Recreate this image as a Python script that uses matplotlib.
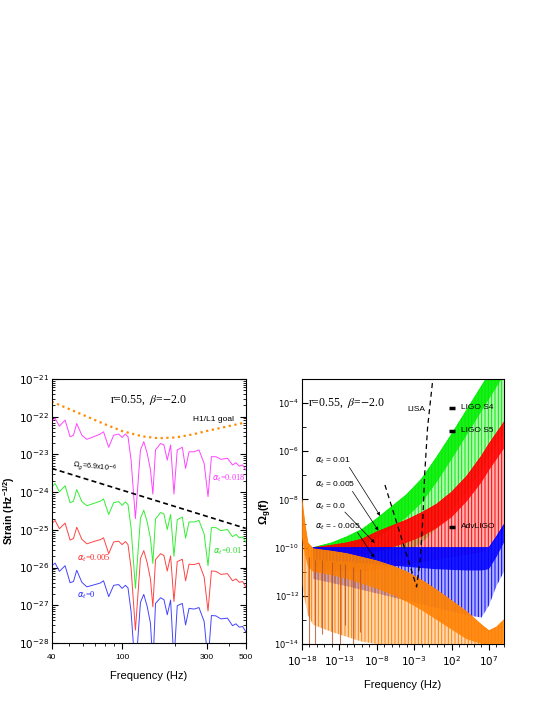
import numpy as np
import matplotlib
matplotlib.use("Agg")
import matplotlib.pyplot as plt
from matplotlib.ticker import FixedLocator, FuncFormatter, NullFormatter

plt.rcParams['font.family'] = ['Liberation Sans Narrow', 'Liberation Sans', 'DejaVu Sans']
plt.rcParams['mathtext.fontset'] = 'custom'
plt.rcParams['mathtext.rm'] = 'Liberation Sans Narrow'
plt.rcParams['mathtext.it'] = 'Liberation Sans Narrow:italic'
plt.rcParams['mathtext.bf'] = 'Liberation Sans:bold'
plt.rcParams['hatch.linewidth'] = 0.7

# ---------------- Left panel data (log10 strain) ----------------
freq_left = [40, 41.8, 44.2, 47.6, 50.8, 53.1, 55.4, 59.2, 63.2, 69, 75.2, 78.5, 84, 89.6,
             95.6, 100, 104.4, 108, 112.4, 118.9, 127, 132.6, 138.6, 144.7, 149.2, 154.5,
             165, 172.4, 180, 188, 196.4, 205, 219, 228.5, 239, 255, 272, 291, 306, 320,
             339, 362, 394, 421, 440, 460, 480, 500]
strain_a018 = [-22.13, -22.04, -22.25, -22.09, -22.53, -22.49, -22.18, -22.49, -22.60, -22.53,
               -22.46, -22.40, -22.81, -22.49, -22.46, -22.55, -22.46, -22.53, -23.15, -24.70,
               -22.88, -22.66, -22.97, -23.41, -24.05, -22.88, -22.71, -22.75, -23.15, -22.75,
               -24.05, -22.88, -22.81, -23.37, -22.93, -22.93, -22.88, -23.24, -24.12, -23.06,
               -23.06, -23.13, -23.10, -23.28, -23.22, -23.31, -23.28, -23.41]
strain_a010 = [-23.86, -23.77, -23.99, -23.83, -24.28, -24.24, -23.93, -24.25, -24.36, -24.30,
               -24.24, -24.18, -24.59, -24.28, -24.25, -24.35, -24.26, -24.33, -24.95, -26.55,
               -24.69, -24.48, -24.79, -25.23, -25.89, -24.71, -24.54, -24.58, -24.99, -24.59,
               -25.70, -24.73, -24.66, -25.22, -24.79, -24.79, -24.75, -25.11, -25.95, -24.94,
               -24.94, -25.02, -24.99, -25.18, -25.12, -25.21, -25.19, -25.32]
strain_a005 = [-24.83, -24.75, -24.97, -24.82, -25.27, -25.23, -24.93, -25.25, -25.37, -25.31,
               -25.26, -25.21, -25.63, -25.32, -25.30, -25.39, -25.31, -25.39, -26.01, -27.66,
               -25.76, -25.55, -25.87, -26.31, -27.04, -25.79, -25.63, -25.68, -26.09, -25.69,
               -26.90, -25.84, -25.78, -26.35, -25.91, -25.92, -25.88, -26.25, -27.15, -26.09,
               -26.10, -26.18, -26.16, -26.35, -26.30, -26.39, -26.37, -26.51]
strain_a000 = [-25.96, -25.88, -26.10, -25.95, -26.40, -26.37, -26.07, -26.39, -26.51, -26.46,
               -26.41, -26.35, -26.77, -26.47, -26.45, -26.55, -26.47, -26.54, -27.17, -28.80,
               -26.92, -26.71, -27.03, -27.48, -28.60, -26.95, -26.80, -26.85, -27.25, -26.86,
               -28.50, -27.01, -26.95, -27.52, -27.08, -27.10, -27.06, -27.43, -28.50, -27.27,
               -27.28, -27.36, -27.34, -27.54, -27.49, -27.58, -27.56, -27.70]
goal_freq = [40, 60, 80, 100, 130, 160, 200, 250, 300, 400, 500]
goal_strain = [-21.60, -21.95, -22.20, -22.38, -22.52, -22.57, -22.55, -22.47, -22.38, -22.25, -22.15]
omega_line_freq = [40, 500]
omega_line_strain = [-23.37, -24.96]

# ---------------- Right panel data (log10 f, log10 Omega) ----------------
green_lf = [-16.5, -14, -12, -10, -8, -6, -4, -2, 0, 2, 4, 6, 7, 8, 9]
green_top = [-10.0, -9.8, -9.55, -9.25, -8.8, -8.3, -7.8, -7.15, -6.25, -5.3, -4.3, -3.3, -2.8, -2.3, -1.8]
green_mid = [-10.4, -10.3, -10.15, -9.95, -9.6, -9.2, -8.75, -8.15, -7.3, -6.35, -5.35, -4.35, -3.85, -3.35, -2.85]
green_low = [-10.8, -10.9, -10.9, -10.8, -10.7, -10.5, -10.2, -9.8, -9.2, -8.5, -7.7, -6.8, -6.3, -5.8, -5.3]

red_lf = [-16.5, -14, -12, -10, -8, -6, -4, -2, 0, 2, 4, 6, 7, 8, 9]
red_top = [-10.0, -9.9, -9.8, -9.65, -9.35, -9.1, -8.85, -8.55, -8.2, -7.7, -7.05, -6.2, -5.7, -5.25, -4.8]
red_mid = [-10.45, -10.45, -10.4, -10.35, -10.2, -10.0, -9.8, -9.55, -9.2, -8.75, -8.1, -7.3, -6.8, -6.35, -5.9]
red_low = [-11.0, -11.0, -11.0, -11.0, -10.9, -10.8, -10.7, -10.6, -10.5, -10.4, -10.3, -10.2, -10.0, -9.6, -9.2]

blue_lf = [-16.5, -12, -8, -4, 0, 4, 6, 7, 8, 9]
blue_top = [-10.0, -10.0, -10.0, -10.0, -10.0, -10.0, -10.0, -10.0, -9.55, -9.05]
blue_mid = [-10.5, -10.6, -10.7, -10.8, -10.9, -10.95, -10.95, -10.9, -10.4, -9.8]
blue_low = [-11.3, -11.6, -11.9, -12.2, -12.5, -12.8, -12.9, -12.4, -11.6, -11.0]

orange_lf = [-18, -17.6, -17.2, -16.5, -14, -12, -10, -8, -6, -4, -2, 0, 2, 4, 6, 7, 8, 9]
orange_top = [-8.0, -9.0, -9.8, -10.05, -10.15, -10.25, -10.4, -10.55, -10.75, -11.0, -11.35,
              -11.75, -12.2, -12.65, -13.2, -13.45, -13.3, -13.0]
orange_mid = [-9.6, -10.3, -10.8, -11.0, -11.15, -11.3, -11.5, -11.7, -11.95, -12.25, -12.6,
              -13.0, -13.4, -13.8, -14.0, -14.0, -14.0, -14.0]
orange_low = [-11.5, -12.2, -12.8, -13.2, -13.5, -13.7, -13.9, -14.0, -14.0, -14.0, -14.0,
              -14.0, -14.0, -14.0, -14.0, -14.0, -14.0, -14.0]
brown_dip_lf = [-17.0, -16.3, -15.3, -14.0, -12.9, -12.3, -11.2, -10.3]
brown_dip_top = [-10.4, -10.5, -10.5, -10.6, -10.7, -10.7, -10.8, -10.9]
brown_dip_bottom = [-14.0, -14.0, -13.6, -14.0, -14.0, -13.2, -14.0, -13.5]

lisa_lf = [-6.9, -2.67, -2.2, -1.85, -1.6, -1.2, -0.5]
lisa_lo = [-7.4, -11.63, -10.5, -8.9, -7.0, -5.0, -3.0]

ligo_names = ['LIGO S4', 'LIGO S5', 'AdvLIGO']
ligo_lf = [2.0, 2.0, 2.0]
ligo_lo = [-4.2, -5.15, -9.13]

alpha_labels = [r'$\alpha_t$ = 0.01', r'$\alpha_t$ = 0.005', r'$\alpha_t$ = 0.0', r'$\alpha_t$ = - 0.005']
alpha_text_pos = [(-16.26, -6.39), (-16.26, -7.39), (-16.26, -8.29), (-16.26, -9.15)]
alpha_arrow_start = [(-11.85, -6.57), (-11.45, -7.57), (-12.52, -8.44), (-10.78, -9.27)]
alpha_arrow_tip = [(-7.34, -8.78), (-7.57, -9.39), (-8.01, -9.89), (-8.11, -10.51)]

fig = plt.figure(figsize=(5.45, 7.05), dpi=100)
p = lambda v: 10.0 ** np.asarray(v)
exp_fmt = FuncFormatter(lambda v, pos: r'$10^{%d}$' % round(np.log10(v)))

# ---------------- Left panel ----------------
ax1 = fig.add_axes([0.0949, 0.0879, 0.356, 0.3745])
ax1.plot(freq_left, p(strain_a018), color='#ff44ff', lw=0.7)
ax1.plot(freq_left, p(strain_a010), color='#33ee33', lw=0.7)
ax1.plot(freq_left, p(strain_a005), color='#ff4444', lw=0.7)
ax1.plot(freq_left, p(strain_a000), color='#4444ff', lw=0.7)
ax1.plot(goal_freq, p(goal_strain), color='#ff8c00', lw=1.6, linestyle=(0, (1, 1.6)))
ax1.plot(omega_line_freq, p(omega_line_strain), color='black', lw=1.2, linestyle=(0, (3, 2)))
ax1.set_xscale('log')
ax1.set_yscale('log')
ax1.set_xlim(40, 500)
ax1.set_ylim(1e-28, 1e-21)
ax1.xaxis.set_major_locator(FixedLocator([40, 100, 300, 500]))
ax1.xaxis.set_major_formatter(FuncFormatter(lambda v, pos: '%d' % round(v)))
ax1.xaxis.set_minor_locator(FixedLocator([50, 60, 70, 80, 90, 200, 400]))
ax1.xaxis.set_minor_formatter(NullFormatter())
ax1.yaxis.set_major_locator(FixedLocator([10.0 ** k for k in range(-28, -20)]))
ax1.yaxis.set_major_formatter(exp_fmt)
ax1.yaxis.set_minor_locator(FixedLocator([m * 10.0 ** k for k in range(-28, -21) for m in range(2, 10)]))
ax1.yaxis.set_minor_formatter(NullFormatter())
ax1.tick_params(axis='x', which='major', direction='out', length=4, labelsize=6, pad=4)
ax1.tick_params(axis='x', which='minor', direction='out', length=2)
ax1.tick_params(axis='y', which='both', direction='in', left=True, right=True, labelsize=7.5, pad=2)
ax1.tick_params(axis='y', which='major', length=4)
ax1.tick_params(axis='y', which='minor', length=2)
ax1.set_xlabel('Frequency (Hz)', fontsize=8, labelpad=7)
ax1.set_ylabel(r'$\mathbf{Strain\ (Hz^{-1/2})}$', fontsize=7.5)
ax1.yaxis.set_label_coords(-0.18, 0.5)

ax1.text(0.5, 0.92, r'r=0.55,  $\beta$=$-$2.0', transform=ax1.transAxes, ha='center', va='center',
         fontsize=8.5, family=['Liberation Serif', 'DejaVu Serif'], math_fontfamily='stix')
ax1.text(0.835, 0.845, 'H1/L1 goal', transform=ax1.transAxes, ha='center', va='center', fontsize=6)
ax1.text(0.105, 0.665, r'$\Omega_g$=6.9x10$^{-6}$', transform=ax1.transAxes, ha='left', va='center',
         fontsize=5.2, rotation=-6)
ax1.text(0.826, 0.625, r'$\alpha_t$=0.018', transform=ax1.transAxes, ha='left', va='center',
         fontsize=6, color='#ff33ff', family=['Liberation Serif'])
ax1.text(0.83, 0.348, r'$\alpha_t$=0.01', transform=ax1.transAxes, ha='left', va='center',
         fontsize=6, color='#22dd22', family=['Liberation Serif'])
ax1.text(0.13, 0.322, r'$\alpha_t$=0.005', transform=ax1.transAxes, ha='left', va='center',
         fontsize=6, color='#ff2222', family=['Liberation Serif'])
ax1.text(0.13, 0.182, r'$\alpha_t$=0', transform=ax1.transAxes, ha='left', va='center',
         fontsize=6, color='#2222ff', family=['Liberation Serif'])

# ---------------- Right panel ----------------
ax2 = fig.add_axes([0.554, 0.0865, 0.3706, 0.376])
ax2.set_xscale('log')
ax2.set_yscale('log')


def band(lf, top, mid, low, color, z):
    x = p(lf)
    ax2.fill_between(x, p(mid), p(low), facecolor=color, alpha=0.3, linewidth=0, zorder=z)
    ax2.fill_between(x, p(top), p(low), facecolor='none', edgecolor=color, hatch='|||||',
                     linewidth=0, zorder=z + 0.05)
    ax2.fill_between(x, p(top), p(mid), facecolor=color, alpha=0.9, linewidth=0, zorder=z + 0.1)
    ax2.plot(x, p(top), color=color, lw=0.6, zorder=z + 0.2)


band(green_lf, green_top, green_mid, green_low, '#00ee00', 2)
band(red_lf, red_top, red_mid, red_low, '#ff0000', 3)
band(blue_lf, blue_top, blue_mid, blue_low, '#0000ff', 4)
band(orange_lf, orange_top, orange_mid, orange_low, '#ff8000', 5)
ax2.vlines(p(brown_dip_lf), p(brown_dip_bottom), p(brown_dip_top), color='#b5522a', lw=0.8,
           alpha=0.8, zorder=5.5)

ax2.plot(p(lisa_lf), p(lisa_lo), color='black', lw=0.9, linestyle=(0, (4, 3)), zorder=7)
for name, lf, lo in zip(ligo_names, ligo_lf, ligo_lo):
    ax2.plot([p(lf)], [p(lo)], marker='_', markersize=5, mew=2.5, color='black', zorder=8)
    ax2.text(p(lf + 1.2), p(lo), name, fontsize=6, ha='left', va='center', zorder=8)
ax2.text(0.565, 0.883, 'LISA', transform=ax2.transAxes, ha='center', va='center', fontsize=6)

for lab, tp, st, tip in zip(alpha_labels, alpha_text_pos, alpha_arrow_start, alpha_arrow_tip):
    ax2.text(p(tp[0]), p(tp[1]), lab, fontsize=6, ha='left', va='center', zorder=9)
    ax2.annotate('', xy=(p(tip[0]), p(tip[1])), xytext=(p(st[0]), p(st[1])),
                 arrowprops=dict(arrowstyle='-|>', lw=0.5, color='black', mutation_scale=5),
                 zorder=9)

ax2.text(0.03, 0.91, r'r=0.55,  $\beta$=$-$2.0', transform=ax2.transAxes, ha='left', va='center',
         fontsize=8.5, family=['Liberation Serif', 'DejaVu Serif'], math_fontfamily='stix')

ax2.set_xlim(1e-18, 1e9)
ax2.set_ylim(1e-14, 1e-3)
ax2.xaxis.set_major_locator(FixedLocator([10.0 ** k for k in [-18, -13, -8, -3, 2, 7]]))
ax2.xaxis.set_major_formatter(exp_fmt)
ax2.xaxis.set_minor_locator(FixedLocator([10.0 ** k for k in range(-18, 10)]))
ax2.xaxis.set_minor_formatter(NullFormatter())
ax2.yaxis.set_major_locator(FixedLocator([10.0 ** k for k in range(-14, -3, 2)]))
ax2.yaxis.set_major_formatter(exp_fmt)
ax2.yaxis.set_minor_locator(FixedLocator([10.0 ** k for k in range(-13, -2, 2)]))
ax2.yaxis.set_minor_formatter(NullFormatter())
ax2.tick_params(axis='x', which='major', direction='out', length=4, labelsize=7.5, pad=3)
ax2.tick_params(axis='x', which='minor', direction='out', length=2)
ax2.tick_params(axis='y', which='both', direction='in', labelsize=6, pad=2)
ax2.tick_params(axis='y', which='major', length=4)
ax2.tick_params(axis='y', which='minor', length=3)
ax2.set_xlabel('Frequency (Hz)', fontsize=8, labelpad=9)
ax2.set_ylabel(r'$\mathbf{\Omega_g(f)}$', fontsize=8)
ax2.yaxis.set_label_coords(-0.14, 0.5)

fig.savefig('out.png', dpi=100)
